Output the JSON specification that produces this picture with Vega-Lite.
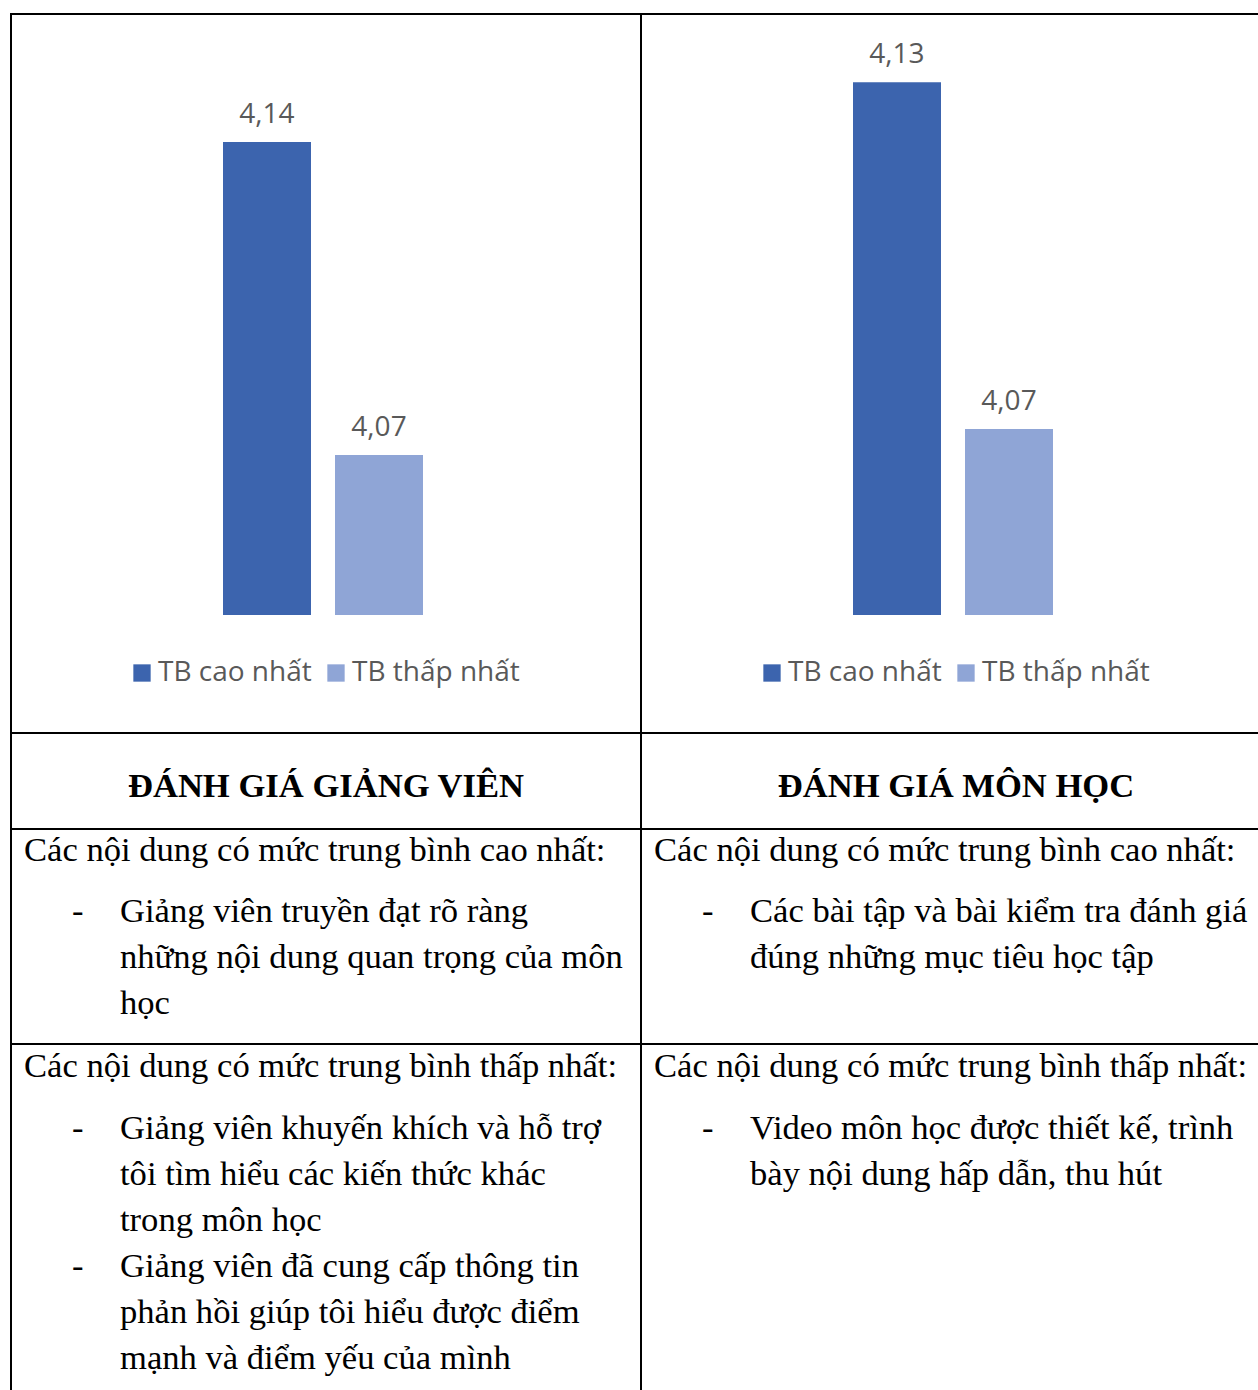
{
  "$schema": "https://vega.github.io/schema/vega-lite/v6.json",
  "padding": {"left": 10, "top": 13, "right": 0, "bottom": 0},
  "background": "white",
  "config": {
    "view": {"stroke": "#000000", "strokeWidth": 2},
    "locale": {"number": {"decimal": ",", "thousands": ".", "grouping": [3], "currency": ["", ""]}}
  },
  "datasets": {
    "bars": [
      {"panel": "Giảng viên", "series": "TB cao nhất", "value": 4.14},
      {"panel": "Giảng viên", "series": "TB thấp nhất", "value": 4.07},
      {"panel": "Môn học", "series": "TB cao nhất", "value": 4.13},
      {"panel": "Môn học", "series": "TB thấp nhất", "value": 4.07}
    ],
    "cells": [
      {"cell": "H-L", "line": 0, "indent": 1.5729, "text": "ĐÁNH GIÁ GIẢNG VIÊN"},
      {"cell": "H-R", "line": 0, "indent": 1.5729, "text": "ĐÁNH GIÁ MÔN HỌC"},
      {"cell": "L-cao", "line": 0, "indent": 0, "text": "Các nội dung có mức trung bình cao nhất:"},
      {"cell": "L-cao", "line": 1.33, "indent": 0.25, "text": "-"},
      {"cell": "L-cao", "line": 1.33, "indent": 0.5, "text": "Giảng viên truyền đạt rõ ràng\nnhững nội dung quan trọng của môn\nhọc"},
      {"cell": "R-cao", "line": 0, "indent": 0, "text": "Các nội dung có mức trung bình cao nhất:"},
      {"cell": "R-cao", "line": 1.33, "indent": 0.25, "text": "-"},
      {"cell": "R-cao", "line": 1.33, "indent": 0.5, "text": "Các bài tập và bài kiểm tra đánh giá\nđúng những mục tiêu học tập"},
      {"cell": "L-thap", "line": 0, "indent": 0, "text": "Các nội dung có mức trung bình thấp nhất:"},
      {"cell": "L-thap", "line": 1.35, "indent": 0.25, "text": "-"},
      {"cell": "L-thap", "line": 1.35, "indent": 0.5, "text": "Giảng viên khuyến khích và hỗ trợ\ntôi tìm hiểu các kiến thức khác\ntrong môn học"},
      {"cell": "L-thap", "line": 4.35, "indent": 0.25, "text": "-"},
      {"cell": "L-thap", "line": 4.35, "indent": 0.5, "text": "Giảng viên đã cung cấp thông tin\nphản hồi giúp tôi hiểu được điểm\nmạnh và điểm yếu của mình"},
      {"cell": "R-thap", "line": 0, "indent": 0, "text": "Các nội dung có mức trung bình thấp nhất:"},
      {"cell": "R-thap", "line": 1.35, "indent": 0.25, "text": "-"},
      {"cell": "R-thap", "line": 1.35, "indent": 0.5, "text": "Video môn học được thiết kế, trình\nbày nội dung hấp dẫn, thu hút"}
    ]
  },
  "columns": 2,
  "spacing": 0,
  "bounds": "flush",
  "resolve": {"scale": {"color": "independent"}, "legend": {"color": "independent"}},
  "concat": [
    {
      "width": 630, "height": 719,
      "data": {"name": "bars"},
      "transform": [{"filter": "datum.panel === 'Giảng viên'"}],
      "encoding": {
        "x": {"field": "series", "type": "nominal", "sort": null, "axis": null,
              "scale": {"range": [212, 412], "paddingInner": 0.2143, "paddingOuter": 0}},
        "y": {"field": "value", "type": "quantitative", "axis": null,
              "scale": {"domain": [4.0078, 4.1686], "zero": false, "nice": false}}
      },
      "layer": [
        {
          "mark": {"type": "bar"},
          "encoding": {
            "y2": {"datum": 4.0342},
            "color": {"field": "series", "type": "nominal",
              "scale": {"domain": ["TB cao nhất", "TB thấp nhất"], "range": ["#3C64AE", "#8FA5D6"]},
              "legend": {"orient": "none", "legendX": 117, "legendY": 645, "direction": "horizontal", "title": null,
                "symbolType": "square", "symbolSize": 300, "symbolStrokeWidth": 0, "symbolOpacity": 1,
                "labelFont": "Open Sans", "labelFontSize": 28, "labelColor": "#595959", "labelOffset": 2,
                "labelLimit": 400, "columnPadding": 10, "padding": 0}}
          }
        },
        {
          "mark": {"type": "text", "dy": -19, "baseline": "alphabetic", "font": "Open Sans", "fontSize": 28, "color": "#595959"},
          "encoding": {"text": {"field": "value", "type": "quantitative", "format": ".2f"}}
        }
      ]
    },
    {
      "width": 630, "height": 719,
      "data": {"name": "bars"},
      "transform": [{"filter": "datum.panel === 'Môn học'"}],
      "encoding": {
        "x": {"field": "series", "type": "nominal", "sort": null, "axis": null,
              "scale": {"range": [212, 412], "paddingInner": 0.2143, "paddingOuter": 0}},
        "y": {"field": "value", "type": "quantitative", "axis": null,
              "scale": {"domain": [4.0174, 4.1418], "zero": false, "nice": false}}
      },
      "layer": [
        {
          "mark": {"type": "bar"},
          "encoding": {
            "y2": {"datum": 4.0378},
            "color": {"field": "series", "type": "nominal",
              "scale": {"domain": ["TB cao nhất", "TB thấp nhất"], "range": ["#3C64AE", "#8FA5D6"]},
              "legend": {"orient": "none", "legendX": 117, "legendY": 645, "direction": "horizontal", "title": null,
                "symbolType": "square", "symbolSize": 300, "symbolStrokeWidth": 0, "symbolOpacity": 1,
                "labelFont": "Open Sans", "labelFontSize": 28, "labelColor": "#595959", "labelOffset": 2,
                "labelLimit": 400, "columnPadding": 10, "padding": 0}}
          }
        },
        {
          "mark": {"type": "text", "dy": -19, "baseline": "alphabetic", "font": "Open Sans", "fontSize": 28, "color": "#595959"},
          "encoding": {"text": {"field": "value", "type": "quantitative", "format": ".2f"}}
        }
      ]
    },
    {
      "width": 630, "height": 96,
      "data": {"name": "cells"},
      "transform": [{"filter": "datum.cell === 'H-L'"}],
      "mark": {"type": "text", "font": "Liberation Serif", "fontSize": 34.6, "fontWeight": "bold", "align": "center", "baseline": "alphabetic", "color": "#000000"},
      "encoding": {
        "x": {"field": "indent", "type": "quantitative", "axis": null, "scale": {"domain": [-0.0677, 3.2135], "zero": false, "nice": false}},
        "y": {"field": "line", "type": "quantitative", "axis": null, "scale": {"domain": [-1.3913, 0.6957], "reverse": true, "zero": false, "nice": false}},
        "text": {"field": "text", "type": "nominal"}
      }
    },
    {
      "width": 630, "height": 96,
      "data": {"name": "cells"},
      "transform": [{"filter": "datum.cell === 'H-R'"}],
      "mark": {"type": "text", "font": "Liberation Serif", "fontSize": 34.6, "fontWeight": "bold", "align": "center", "baseline": "alphabetic", "color": "#000000"},
      "encoding": {
        "x": {"field": "indent", "type": "quantitative", "axis": null, "scale": {"domain": [-0.0677, 3.2135], "zero": false, "nice": false}},
        "y": {"field": "line", "type": "quantitative", "axis": null, "scale": {"domain": [-1.3913, 0.6957], "reverse": true, "zero": false, "nice": false}},
        "text": {"field": "text", "type": "nominal"}
      }
    },
    {
      "width": 630, "height": 215,
      "data": {"name": "cells"},
      "transform": [{"filter": "datum.cell === 'L-cao'"}],
      "mark": {"type": "text", "font": "Liberation Serif", "fontSize": 34.6, "lineHeight": 46, "lineBreak": "\n", "align": "left", "baseline": "alphabetic", "color": "#000000"},
      "encoding": {
        "x": {"field": "indent", "type": "quantitative", "axis": null, "scale": {"domain": [-0.0677, 3.2135], "zero": false, "nice": false}},
        "y": {"field": "line", "type": "quantitative", "axis": null, "scale": {"domain": [-0.6957, 3.9783], "reverse": true, "zero": false, "nice": false}},
        "text": {"field": "text", "type": "nominal"}
      }
    },
    {
      "width": 630, "height": 215,
      "data": {"name": "cells"},
      "transform": [{"filter": "datum.cell === 'R-cao'"}],
      "mark": {"type": "text", "font": "Liberation Serif", "fontSize": 34.6, "lineHeight": 46, "lineBreak": "\n", "align": "left", "baseline": "alphabetic", "color": "#000000"},
      "encoding": {
        "x": {"field": "indent", "type": "quantitative", "axis": null, "scale": {"domain": [-0.0677, 3.2135], "zero": false, "nice": false}},
        "y": {"field": "line", "type": "quantitative", "axis": null, "scale": {"domain": [-0.6957, 3.9783], "reverse": true, "zero": false, "nice": false}},
        "text": {"field": "text", "type": "nominal"}
      }
    },
    {
      "width": 630, "height": 360,
      "data": {"name": "cells"},
      "transform": [{"filter": "datum.cell === 'L-thap'"}],
      "mark": {"type": "text", "font": "Liberation Serif", "fontSize": 34.6, "lineHeight": 46, "lineBreak": "\n", "align": "left", "baseline": "alphabetic", "color": "#000000"},
      "encoding": {
        "x": {"field": "indent", "type": "quantitative", "axis": null, "scale": {"domain": [-0.0677, 3.2135], "zero": false, "nice": false}},
        "y": {"field": "line", "type": "quantitative", "axis": null, "scale": {"domain": [-0.7174, 7.1087], "reverse": true, "zero": false, "nice": false}},
        "text": {"field": "text", "type": "nominal"}
      }
    },
    {
      "width": 630, "height": 360,
      "data": {"name": "cells"},
      "transform": [{"filter": "datum.cell === 'R-thap'"}],
      "mark": {"type": "text", "font": "Liberation Serif", "fontSize": 34.6, "lineHeight": 46, "lineBreak": "\n", "align": "left", "baseline": "alphabetic", "color": "#000000"},
      "encoding": {
        "x": {"field": "indent", "type": "quantitative", "axis": null, "scale": {"domain": [-0.0677, 3.2135], "zero": false, "nice": false}},
        "y": {"field": "line", "type": "quantitative", "axis": null, "scale": {"domain": [-0.7174, 7.1087], "reverse": true, "zero": false, "nice": false}},
        "text": {"field": "text", "type": "nominal"}
      }
    }
  ]
}
